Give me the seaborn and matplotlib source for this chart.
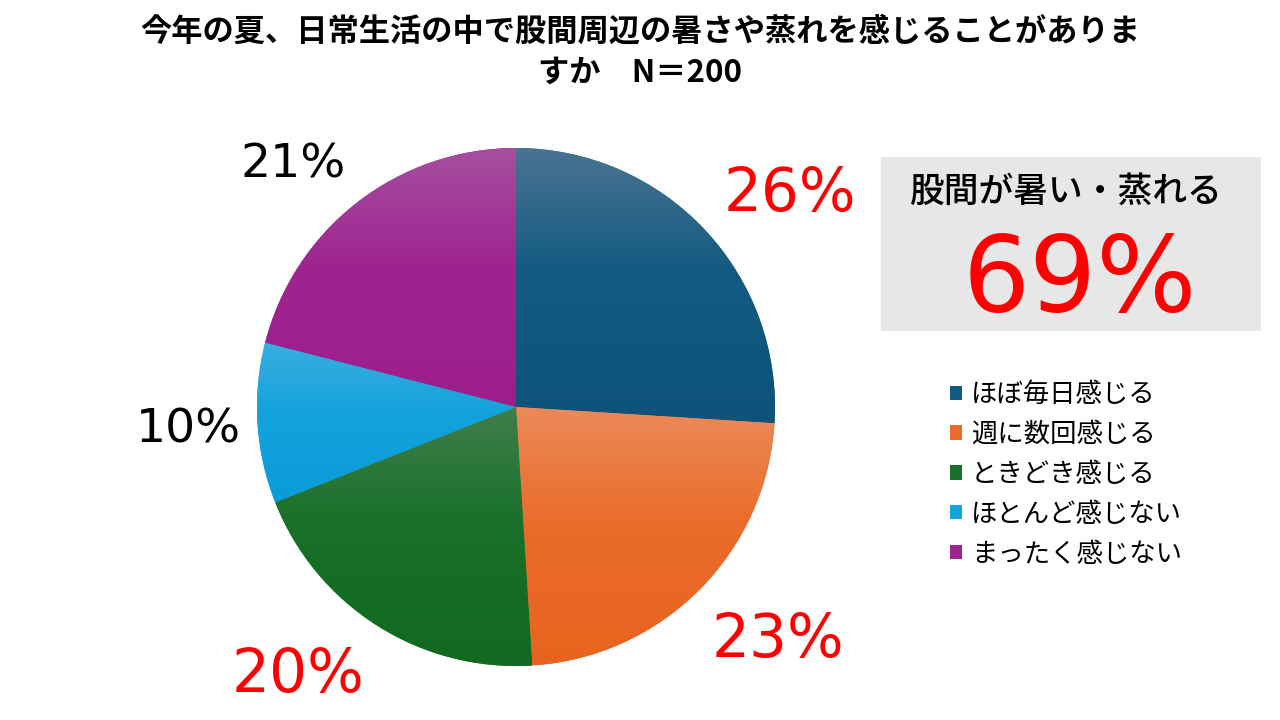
import numpy as np
import matplotlib
matplotlib.use('Agg')
import matplotlib.pyplot as plt
import seaborn as sns
from matplotlib.colors import LinearSegmentedColormap
from matplotlib.patches import Rectangle, Patch

sns.set_theme(style='white')
plt.rcParams['font.family'] = ['Noto Sans CJK JP', 'DejaVu Sans']
plt.rcParams['text.color'] = 'black'

# data
categories = ['ほぼ毎日感じる', '週に数回感じる', 'ときどき感じる', 'ほとんど感じない', 'まったく感じない']
shares = [26, 23, 20, 10, 21]
label_colors = ['#ff0000', '#ff0000', '#ff0000', 'black', 'black']
# label spots, in pie radii from the centre
label_pos = [(1.058, 0.819), (1.012, -0.900), (-0.842, -1.035), (-1.266, -0.089), (-0.861, 0.934)]
base_colors = ['#135b82', '#ea6c2a', '#19702a', '#13a2dc', '#9e2590']
top_colors = ['#4a7391', '#ec8a5a', '#3f7f4a', '#3aaee0', '#a64fa0']
bottom_colors = ['#0c5279', '#e8641e', '#116a1f', '#0a9cd8', '#9c1e8c']
title = '今年の夏、日常生活の中で股間周辺の暑さや蒸れを感じることがありま\nすか　N＝200'
box_head = '股間が暑い・蒸れる'
box_total = '69%'

fig = plt.figure(figsize=(12.8, 7.2), dpi=100)
cx, cy, r = 516, 407, 259
ax = fig.add_axes([(cx - r) / 1280, (720 - cy - r) / 720, 2 * r / 1280, 2 * r / 720])

wedges, texts = ax.pie(shares, colors=base_colors, startangle=90, counterclock=False,
                       labels=[f'{v}%' for v in shares],
                       wedgeprops=dict(linewidth=0))
for t, c, p in zip(texts, label_colors, label_pos):
    t.set_position(p)
    t.set_color(c)
    t.set_family('DejaVu Sans')
    t.set_fontsize(43 if c != 'black' else 34)
    t.set_ha('center')
    t.set_va('center')

# vertical gradient inside each slice, lighter at its top
grad = np.linspace(0, 1, 256).reshape(-1, 1)
for w, base, top, bot in zip(wedges, base_colors, top_colors, bottom_colors):
    ext = w.get_path().get_extents()
    cmap = LinearSegmentedColormap.from_list('g', [(0, bot), (0.55, base), (1, top)])
    im = ax.imshow(grad, extent=[ext.x0, ext.x1, ext.y0, ext.y1], origin='lower',
                   cmap=cmap, aspect='auto', zorder=2)
    im.set_clip_path(w)

ax.set_xlim(-1, 1)
ax.set_ylim(-1, 1)
ax.set_aspect('equal')
ax.axis('off')

fig.text(0.5, 1 - 52 / 720, title, ha='center', va='center', fontsize=22.5,
         fontweight='bold', linespacing=1.35, color='black')

# summary box
fig.patches.append(Rectangle((881 / 1280, (720 - 331) / 720), 380 / 1280, 174 / 720,
                             transform=fig.transFigure, facecolor='#e7e7e7',
                             edgecolor='none', zorder=0))
fig.text(1066 / 1280, 1 - 192 / 720, box_head, ha='center', va='center',
         fontsize=25, fontweight='medium', color='black')
fig.text(1080 / 1280, 1 - 283 / 720, box_total, ha='center', va='center',
         fontsize=76, color='#ff0000', family='DejaVu Sans')

handles = [Patch(facecolor=c, edgecolor='none') for c in base_colors]
leg = fig.legend(handles, categories, loc='upper left', bbox_to_anchor=(950 / 1280, 1 - 381 / 720),
                 frameon=False, fontsize=19, handlelength=0.45, handleheight=0.45,
                 handletextpad=0.35, labelspacing=0.49, borderpad=0, borderaxespad=0)
for t in leg.get_texts():
    t.set_color('black')

fig.savefig('out.png', dpi=100)
